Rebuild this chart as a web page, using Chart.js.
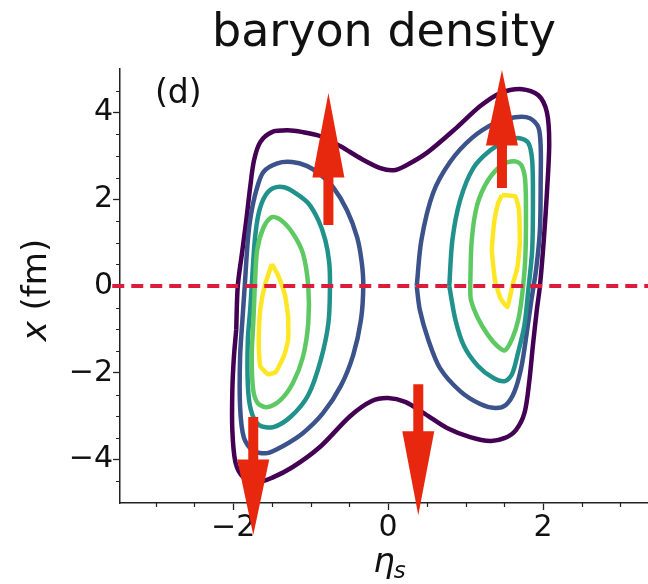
<!DOCTYPE html>
<html>
<head>
<meta charset="utf-8">
<script src="https://cdn.jsdelivr.net/npm/chart.js@4.4.1/dist/chart.umd.min.js"></script>
<style>
  html, body { margin: 0; padding: 0; background: #ffffff; overflow: hidden; }
  #wrap { width: 648px; height: 584px; }
</style>
</head>
<body>
<div id="wrap"><canvas id="c" width="648" height="584"></canvas></div>
<script>
// Baryon density contours in the (eta_s, x) plane, lowest to highest level.
// Each ring is a list of [eta_s, x(fm)] vertices; rings are closed when drawn.
const level1Ring = [
  [-1.96,-1.01],[-1.94,0.00],[-1.88,0.83],[-1.83,1.52],[-1.78,2.28],[-1.73,2.90],[-1.65,3.32],
  [-1.50,3.55],[-1.30,3.59],[-1.10,3.55],[-0.88,3.46],[-0.62,3.23],[-0.34,2.93],[-0.10,2.72],
  [0.07,2.67],[0.22,2.77],[0.50,3.07],[0.89,3.66],[1.19,4.15],[1.45,4.45],[1.73,4.54],
  [1.94,4.40],[2.05,4.01],[2.08,3.30],[2.05,2.14],[2.01,1.06],[1.96,0.00],[1.92,-0.55],
  [1.87,-1.36],[1.82,-2.24],[1.76,-2.93],[1.65,-3.32],[1.51,-3.50],[1.32,-3.57],[1.06,-3.48],
  [0.76,-3.27],[0.48,-2.95],[0.22,-2.67],[0.00,-2.58],[-0.21,-2.65],[-0.49,-3.00],[-0.88,-3.71],
  [-1.23,-4.17],[-1.50,-4.42],[-1.69,-4.52],[-1.87,-4.40],[-1.97,-4.06],[-2.01,-3.32],
  [-2.01,-2.40],[-1.99,-1.64]
];
const level2Left = [
  [-1.85,0.00],[-1.81,1.06],[-1.77,1.64],[-1.70,2.21],[-1.61,2.63],[-1.43,2.83],[-1.24,2.86],
  [-1.05,2.77],[-0.88,2.58],[-0.71,2.28],[-0.53,1.75],[-0.40,1.13],[-0.34,0.55],[-0.32,0.00],
  [-0.35,-0.78],[-0.45,-1.59],[-0.61,-2.30],[-0.84,-2.93],[-1.10,-3.39],[-1.36,-3.69],
  [-1.56,-3.85],[-1.74,-3.80],[-1.86,-3.50],[-1.91,-2.79],[-1.91,-1.64],[-1.88,-0.78]
];
const level2Right = [
  [0.37,0.00],[0.43,1.06],[0.58,2.14],[0.80,2.86],[1.08,3.41],[1.38,3.76],[1.64,3.89],
  [1.83,3.87],[1.94,3.66],[1.97,3.20],[1.97,2.44],[1.96,1.29],[1.91,0.37],[1.85,-0.32],
  [1.79,-1.08],[1.72,-1.87],[1.63,-2.44],[1.52,-2.74],[1.38,-2.81],[1.19,-2.72],[0.93,-2.42],
  [0.67,-1.89],[0.52,-1.24],[0.41,-0.55]
];
const level3Left = [
  [-1.76,0.00],[-1.72,1.06],[-1.67,1.68],[-1.59,2.07],[-1.48,2.26],[-1.34,2.28],[-1.19,2.14],
  [-1.03,1.91],[-0.90,1.52],[-0.81,1.06],[-0.76,0.55],[-0.75,0.00],[-0.77,-0.85],[-0.87,-1.71],
  [-1.03,-2.51],[-1.25,-3.00],[-1.48,-3.25],[-1.67,-3.20],[-1.77,-2.86],[-1.81,-2.28],
  [-1.81,-1.24],[-1.78,-0.55]
];
const level3Right = [
  [0.79,0.00],[0.83,1.06],[0.93,1.98],[1.10,2.72],[1.32,3.13],[1.54,3.36],[1.70,3.41],
  [1.81,3.30],[1.86,2.90],[1.87,1.98],[1.86,0.83],[1.81,-0.09],[1.76,-0.90],[1.68,-1.52],
  [1.60,-2.03],[1.51,-2.19],[1.36,-2.12],[1.16,-1.84],[0.98,-1.38],[0.87,-0.78]
];
const level4Left = [
  [-1.72,0.00],[-1.69,0.83],[-1.61,1.34],[-1.50,1.59],[-1.38,1.52],[-1.23,1.22],[-1.10,0.76],
  [-1.03,0.00],[-1.03,-0.85],[-1.10,-1.64],[-1.23,-2.24],[-1.39,-2.63],[-1.56,-2.79],
  [-1.68,-2.70],[-1.74,-2.40],[-1.76,-1.64],[-1.74,-0.85]
];
const level4Right = [
  [1.06,0.00],[1.08,1.06],[1.15,1.87],[1.29,2.44],[1.47,2.79],[1.63,2.88],[1.72,2.79],
  [1.77,2.44],[1.78,1.52],[1.77,0.60],[1.73,-0.21],[1.68,-0.78],[1.60,-1.22],[1.51,-1.48],
  [1.41,-1.38],[1.29,-1.13],[1.16,-0.74],[1.07,-0.32]
];
const level5Left = [
  [-1.50,0.51],[-1.42,0.25],[-1.33,-0.21],[-1.29,-0.71],[-1.29,-1.24],[-1.34,-1.59],
  [-1.45,-1.98],[-1.55,-2.03],[-1.65,-1.84],[-1.67,-1.24],[-1.65,-0.55],[-1.59,0.02]
];
const level5Right = [
  [1.47,2.10],[1.64,2.07],[1.69,1.75],[1.70,0.99],[1.67,0.44],[1.60,-0.02],[1.54,-0.48],
  [1.45,-0.28],[1.38,0.14],[1.34,0.83],[1.37,1.48],[1.42,1.91]
];

// Flow arrows: position in eta_s, tail and tip in x (fm)
const arrowEta  = [-0.77, 1.47, -1.74, 0.39];
const arrowTail = [1.41, 2.26, -3.02, -2.26];
const arrowTip  = [4.45, 4.98, -5.74, -5.28];

// Reference line x = 0
const midlineEta = [-3.56, 3.5];
const midlineX   = [0, 0];

// Axis ticks
const xTickValues = [-2, 0, 2];
const yTickValues = [-4, -2, 0, 2, 4];
const xMinorTicks = [-3, -2.5, -1.5, -1, -0.5, 0.5, 1, 1.5, 2.5, 3];
const yMinorTicks = [-4.5, -3.5, -3, -2.5, -1.5, -1, -0.5, 0.5, 1, 1.5, 2.5, 3, 3.5, 4.5];

const viridis = ['#440154', '#3b528b', '#21918c', '#5ec962', '#fde725'];
const FONT = "'DejaVu Sans', 'Liberation Sans', sans-serif";
const INK = '#111111';

const toPts = ring => ring.concat([ring[0]]).map(p => ({ x: p[0], y: p[1] }));
const ring = (label, data, color, tension) => ({
  label, data: toPts(data), showLine: true, borderColor: color, backgroundColor: color,
  borderWidth: 4.5, pointRadius: 0, tension, fill: false
});

const fmt = v => (v < 0 ? '\u2212' + Math.abs(v) : String(v));

const decorations = {
  id: 'decorations',
  afterDraw(chart) {
    const { ctx, chartArea: a, scales: { x, y } } = chart;
    ctx.save();
    // minor ticks
    ctx.strokeStyle = '#222';
    ctx.lineWidth = 1.2;
    ctx.beginPath();
    xMinorTicks.forEach(v => {
      const px = Math.round(x.getPixelForValue(v)) + 0.5;
      ctx.moveTo(px, a.bottom); ctx.lineTo(px, a.bottom + 4);
    });
    yMinorTicks.forEach(v => {
      const py = Math.round(y.getPixelForValue(v)) + 0.5;
      ctx.moveTo(a.left, py); ctx.lineTo(a.left - 4, py);
    });
    ctx.stroke();

    // axis titles
    ctx.fillStyle = INK;
    ctx.textBaseline = 'alphabetic';
    const etaFont = 'italic 34px ' + FONT, subFont = 'italic 23px ' + FONT;
    ctx.font = etaFont; const wEta = ctx.measureText('\u03b7').width;
    ctx.font = subFont; const wS = ctx.measureText('s').width;
    const cx = x.getPixelForValue(0) + 2;
    const bx = cx - (wEta + wS) / 2, by = a.bottom + 69;
    ctx.font = etaFont; ctx.textAlign = 'left'; ctx.fillText('\u03b7', bx, by);
    ctx.font = subFont; ctx.fillText('s', bx + wEta - 1, by + 6);

    ctx.save();
    ctx.translate(a.left - 83, (a.top + a.bottom) / 2 + 4);
    ctx.rotate(-Math.PI / 2);
    ctx.textBaseline = 'middle';
    const varFont = 'italic 34px ' + FONT, unitFont = '34px ' + FONT;
    ctx.font = varFont; const wX = ctx.measureText('x').width;
    ctx.font = unitFont; const wU = ctx.measureText(' (fm)').width;
    const sx = -(wX + wU) / 2;
    ctx.font = varFont; ctx.fillText('x', sx, 0);
    ctx.font = unitFont; ctx.fillText(' (fm)', sx + wX, 0);
    ctx.restore();

    // panel tag
    ctx.font = '33px ' + FONT;
    ctx.textAlign = 'left';
    ctx.fillText('(d)', a.left + 35, a.top + 34);

    // flow arrows
    ctx.fillStyle = '#e8280e';
    arrowEta.forEach((eta, i) => {
      const px = x.getPixelForValue(eta);
      const p0 = y.getPixelForValue(arrowTail[i]);
      const p1 = y.getPixelForValue(arrowTip[i]);
      const pb = p0 + (p1 - p0) * 0.36;
      const hs = 5, hh = 16;
      ctx.beginPath();
      ctx.moveTo(px - hs, p0);
      ctx.lineTo(px - hs, pb);
      ctx.lineTo(px - hh, pb);
      ctx.lineTo(px, p1);
      ctx.lineTo(px + hh, pb);
      ctx.lineTo(px + hs, pb);
      ctx.lineTo(px + hs, p0);
      ctx.closePath();
      ctx.fill();
    });
    ctx.restore();
  }
};

const axisCommon = {
  type: 'linear',
  grid: { display: true, drawOnChartArea: false, drawTicks: true, tickLength: 7, tickColor: '#222', tickWidth: 1.3 },
  border: { display: true, color: '#222', width: 1.5 },
  ticks: { color: INK, font: { family: FONT, size: 30 }, padding: 0, autoSkip: false, maxRotation: 0, callback: v => fmt(v) }
};

new Chart(document.getElementById('c'), {
  type: 'scatter',
  data: {
    datasets: [
      {
        label: 'x = 0', data: midlineEta.map((v, i) => ({ x: v, y: midlineX[i] })),
        showLine: true, borderColor: '#dc1c3c', borderWidth: 4, borderDash: [12, 7],
        pointRadius: 0, clip: false
      },
      ring('level 5 left', level5Left, viridis[4], 0.15),
      ring('level 5 right', level5Right, viridis[4], 0.15),
      ring('level 4 left', level4Left, viridis[3], 0.3),
      ring('level 4 right', level4Right, viridis[3], 0.3),
      ring('level 3 left', level3Left, viridis[2], 0.3),
      ring('level 3 right', level3Right, viridis[2], 0.3),
      ring('level 2 left', level2Left, viridis[1], 0.3),
      ring('level 2 right', level2Right, viridis[1], 0.3),
      ring('level 1', level1Ring, viridis[0], 0.3)
    ]
  },
  options: {
    responsive: false,
    animation: false,
    devicePixelRatio: 1,
    layout: { padding: 0 },
    plugins: {
      legend: { display: false },
      tooltip: { enabled: false },
      title: {
        display: true, text: 'baryon density', fullSize: false, color: INK,
        font: { family: FONT, size: 46, weight: 'normal', lineHeight: 1.2 },
        padding: { top: 6, bottom: 8 }
      }
    },
    scales: {
      x: Object.assign({}, axisCommon, {
        min: -3.46, max: 3.355,
        afterBuildTicks: s => { s.ticks = xTickValues.map(v => ({ value: v })); },
        afterFit: s => { s.height = 81; }
      }),
      y: Object.assign({}, axisCommon, {
        min: -5, max: 5,
        afterBuildTicks: s => { s.ticks = yTickValues.map(v => ({ value: v })); },
        afterFit: s => { s.width = 120; }
      })
    }
  },
  plugins: [decorations]
});
</script>
</body>
</html>
